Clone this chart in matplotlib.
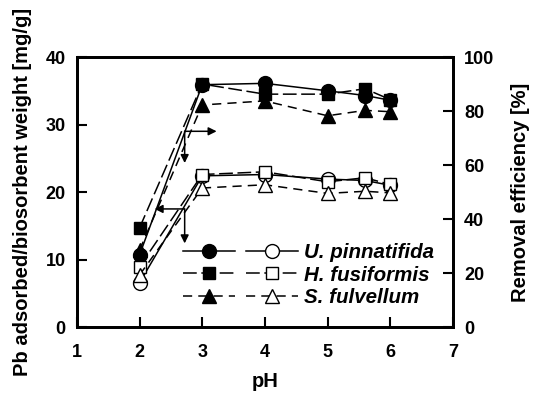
import numpy as np
import matplotlib
matplotlib.use('Agg')
import matplotlib.pyplot as plt
from matplotlib.legend_handler import HandlerTuple

plt.rcParams['font.family'] = ['Liberation Sans', 'DejaVu Sans']
plt.rcParams['font.weight'] = 'bold'

# pH values
ph = [2, 3, 4, 5, 5.6, 6]
# Pb adsorbed (left axis, mg/g)
up_ads = [10.7, 35.9, 36.1, 35.0, 34.3, 33.6]
hf_ads = [14.7, 36.0, 34.5, 34.5, 35.3, 33.7]
sf_ads = [11.4, 32.9, 33.5, 31.3, 32.1, 31.9]
# removal efficiency (right axis, %)
up_eff = [16.4, 56.0, 56.5, 54.8, 54.3, 52.5]
hf_eff = [22.4, 56.5, 57.5, 53.8, 55.3, 52.8]
sf_eff = [19.3, 51.5, 52.7, 49.5, 50.3, 49.7]
names = ["U. pinnatifida", "H. fusiformis", "S. fulvellum"]

# arrows: (x_start, y_start, x_end, y_end) in left axis units
arrows = [(2.72, 29.0, 3.23, 29.0), (2.72, 29.0, 2.72, 24.3),
          (2.72, 17.5, 2.24, 17.5), (2.72, 17.5, 2.72, 12.4)]

fig = plt.figure(figsize=(5.34, 3.96), dpi=100)
ax = fig.add_axes([0.144, 0.174, 0.704, 0.682])
ax2 = ax.twinx()

styles = ['-', (0, (9, 3)), (0, (6, 4))]
markers = ['o', 's', '^']
msz = [10, 9, 9.5]
ads = [up_ads, hf_ads, sf_ads]
eff = [up_eff, hf_eff, sf_eff]

handles = []
for i in range(3):
    f, = ax.plot(ph, ads[i], linestyle=styles[i], marker=markers[i], color='black',
                 markerfacecolor='black', markersize=msz[i], linewidth=1.1)
    o, = ax2.plot(ph, eff[i], linestyle=styles[i], marker=markers[i], color='black',
                  markerfacecolor='white', markersize=msz[i], linewidth=1.1)
    handles.append((f, o))

for x0, y0, x1, y1 in arrows:
    ax.annotate('', xy=(x1, y1), xytext=(x0, y0),
                arrowprops=dict(arrowstyle='-|>', color='black', lw=1.1,
                                mutation_scale=12, shrinkA=0, shrinkB=0))

ax.set_xlim(1, 7)
ax.set_ylim(0, 40)
ax2.set_ylim(0, 100)
ax.set_xticks(range(1, 8))
ax.set_yticks(range(0, 41, 10))
ax2.set_yticks(range(0, 101, 20))
ax.tick_params(direction='in', length=7, width=1.5, labelsize=13, pad=8)
ax.tick_params(axis='x', pad=12)
ax2.tick_params(direction='in', length=7, width=1.5, labelsize=13, pad=8)
for a in (ax, ax2):
    for s in a.spines.values():
        s.set_linewidth(2)

ax.set_xlabel('pH', fontsize=14.5, fontweight='bold', labelpad=8)
ax.set_ylabel('Pb adsorbed/biosorbent weight [mg/g]', fontsize=14.5, fontweight='bold', labelpad=10)
ax2.set_ylabel('Removal efficiency [%]', fontsize=14.5, fontweight='bold', labelpad=12)

leg = ax2.legend(handles, names, handler_map={tuple: HandlerTuple(ndivide=None, pad=0.5)},
                 loc='lower right', bbox_to_anchor=(1.0, 0.005), frameon=False,
                 handlelength=5.6, handletextpad=0.3, labelspacing=0.18,
                 prop={'family': 'Liberation Sans', 'weight': 'bold', 'style': 'italic', 'size': 14.8})

fig.savefig('out.png', dpi=100)
